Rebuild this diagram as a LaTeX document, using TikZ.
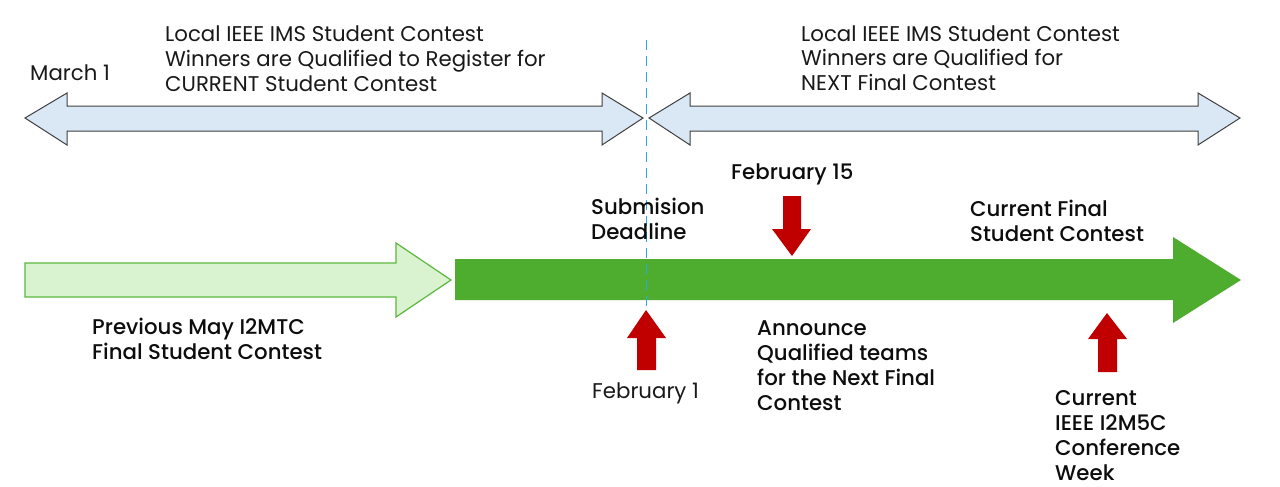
\documentclass[tikz,border=0pt]{standalone}
\usepackage{fontspec}
\setmainfont{Poppins}
\newfontfamily\medfont{Poppins Medium}
\definecolor{bluefill}{HTML}{DAE8F5}
\definecolor{blueedge}{HTML}{404040}
\definecolor{lgfill}{HTML}{D9F2D0}
\definecolor{lgedge}{HTML}{5CB83C}
\definecolor{dgreen}{HTML}{4EAC2E}
\definecolor{dred}{HTML}{C00000}
\definecolor{dashblue}{HTML}{2FA8E0}
\tikzset{
  reg/.style={anchor=base west, inner sep=0pt, align=left, text=black!90,
    font=\fontsize{21.3}{25}\selectfont},
  med/.style={anchor=base west, inner sep=0pt, align=left, text=black!95,
    font=\medfont\fontsize{21.3}{25}\selectfont},
  dbl/.style={fill=bluefill, draw=blueedge, line width=1pt, line join=miter},
  redarrow/.style={fill=dred, draw=none},
}
\begin{document}
\begin{tikzpicture}[x=1pt, y=-1pt]
\useasboundingbox[fill=white] (0,0) rectangle (1280,487);

% upper double arrows
\draw[dbl] (25,118) -- (67,93) -- (67,106) -- (602,106) -- (602,93) -- (643,118)
  -- (602,145) -- (602,131) -- (67,131) -- (67,145) -- cycle;
\draw[dbl] (649,118) -- (690,93) -- (690,106) -- (1198,106) -- (1198,93) -- (1240,118)
  -- (1198,145) -- (1198,131) -- (690,131) -- (690,145) -- cycle;

% previous arrow (light green)
\draw[fill=lgfill, draw=lgedge, line width=1.2pt] (25,263) -- (396,263) -- (396,243) -- (451,280)
  -- (396,317) -- (396,297) -- (25,297) -- cycle;

% current arrow (dark green)
\fill[dgreen] (455,259) -- (1173,259) -- (1173,237) -- (1241,280) -- (1173,323)
  -- (1173,300) -- (455,300) -- cycle;

% dashed line
\coordinate (dtop) at (646,40);
\coordinate (dbot) at (646,310);
\draw[dashblue, line width=1pt, dash pattern=on 10pt off 6pt] (dtop) -- (dbot);

% red arrows
\fill[redarrow] (646,310) -- (666,338) -- (656,338) -- (656,370) -- (637,370) -- (637,338) -- (627,338) -- cycle;
\fill[redarrow] (792,256) -- (811,229) -- (801,229) -- (801,196) -- (783,196) -- (783,229) -- (772,229) -- cycle;
\fill[redarrow] (1107,313) -- (1127,339) -- (1117,339) -- (1117,372) -- (1098,372) -- (1098,339) -- (1088,339) -- cycle;

% texts (anchor: baseline of last line)
\node[reg] (march) at (30,80.5) {March 1};
\node[reg] (localA) at (165,92) {Local IEEE IMS Student Contest\\Winners are Qualified to Register for\\CURRENT Student Contest};
\node[reg] (localB) at (801,91) {Local IEEE IMS Student Contest\\Winners are Qualified for\\NEXT Final Contest};
\node[med] (feb15) at (731,179.5) {February 15};
\node[med] (subm) at (591,239) {Submision\\Deadline};
\node[med] (curfinal) at (970,241) {Current Final\\Student Contest};
\node[med] (prev) at (92,359) {Previous May I2MTC\\Final Student Contest};
\node[reg] (feb1) at (592,398) {February 1};
\node[med] (announce) at (757,410) {Announce\\Qualified teams\\for the Next Final\\Contest};
\node[med] (conf) at (1055,480) {Current\\IEEE I2M5C\\Conference\\Week};
\end{tikzpicture}
\end{document}
